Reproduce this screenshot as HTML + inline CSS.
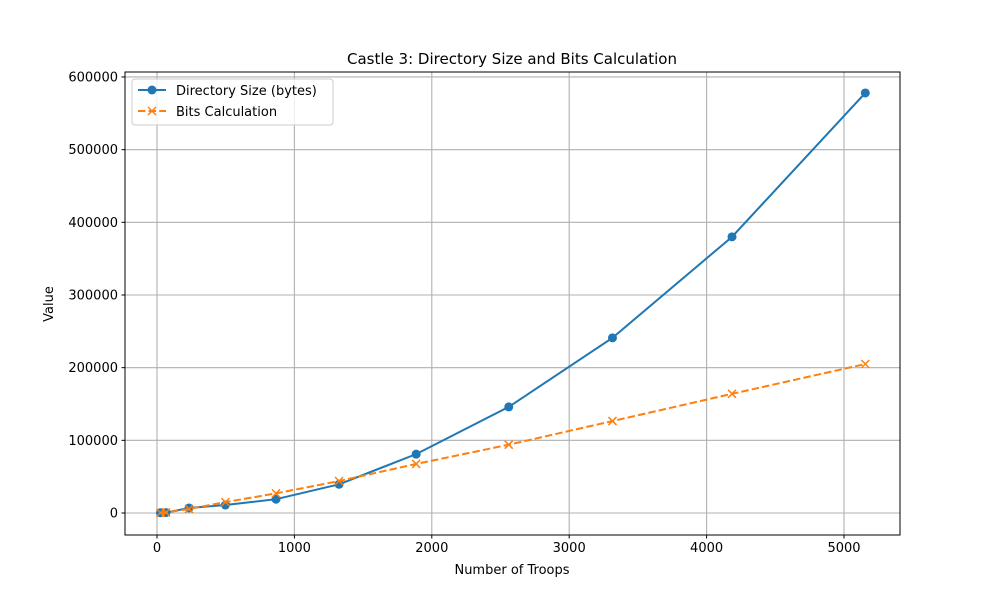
<!DOCTYPE html>
<html><head><meta charset="utf-8"><style>
body{margin:0;background:#fff;font-family:"Liberation Sans","DejaVu Sans",sans-serif}
text{font-family:"DejaVu Sans","Liberation Sans",sans-serif}
</style></head><body>
<svg id="c" width="1000" height="600" xmlns="http://www.w3.org/2000/svg"></svg>
<script>
const troops=[25,65,233,498,866,1325,1886,2560,3315,4185,5155];
const dirSize=[300,600,6900,11000,19000,39500,81000,146000,241000,380000,578000];
const bits=[300,800,5500,15000,27000,44000,67500,94000,126500,164000,205000];
const xTicks=[0,1000,2000,3000,4000,5000];
const yTicks=[0,100000,200000,300000,400000,500000,600000];
const L=125,R=900,T=72,B=535;
const xs=v=>157+v*0.1374;
const ys=v=>513-v*0.0007267;
const s=document.getElementById('c');
const NS='http://www.w3.org/2000/svg';
function mk(t,a,p){const e=document.createElementNS(NS,t);for(const k in a)e.setAttribute(k,a[k]);(p||s).appendChild(e);return e;}
mk('rect',{x:0,y:0,width:1000,height:600,fill:'#fff'});
xTicks.forEach(v=>{const x=xs(v);
 const g=mk('line',{x1:x,x2:x,y1:T,y2:B,stroke:'#b0b0b0','stroke-width':1.1});
 
 mk('line',{x1:x,x2:x,y1:B,y2:B+3.5,stroke:'#000','stroke-width':1});
 const t=mk('text',{x:x,y:B+17,'text-anchor':'middle','font-size':13});t.textContent=v;
 });
yTicks.forEach(v=>{const y=ys(v);
 const g=mk('line',{x1:L,x2:R,y1:y,y2:y,stroke:'#b0b0b0','stroke-width':1.1});
 
 mk('line',{x1:L-3.5,x2:L,y1:y,y2:y,stroke:'#000','stroke-width':1});
 const t=mk('text',{x:L-7,y:y+4.5,'text-anchor':'end','font-size':13});t.textContent=v;
 });
const fr=mk('rect',{x:L,y:T,width:R-L,height:B-T,fill:'none',stroke:'#000','stroke-width':1});

const p1=mk('polyline',{points:troops.map((v,i)=>xs(v)+','+ys(dirSize[i])).join(' '),fill:'none',stroke:'#1f77b4','stroke-width':2});

troops.forEach((v,i)=>{const c=mk('circle',{cx:xs(v),cy:ys(dirSize[i]),r:4.5,fill:'#1f77b4'});
 });
const p2=mk('polyline',{points:troops.map((v,i)=>xs(v)+','+ys(bits[i])).join(' '),fill:'none',stroke:'#ff7f0e','stroke-width':2,'stroke-dasharray':'7.4,3.2'});

troops.forEach((v,i)=>{const x=xs(v),y=ys(bits[i]);
 const m=mk('path',{d:`M${x-4},${y-4}L${x+4},${y+4}M${x-4},${y+4}L${x+4},${y-4}`,stroke:'#ff7f0e','stroke-width':1.5});
 });
const ti=mk('text',{x:512,y:64,'text-anchor':'middle','font-size':15});ti.textContent='Castle 3: Directory Size and Bits Calculation';

const xl=mk('text',{x:512,y:574,'text-anchor':'middle','font-size':13});xl.textContent='Number of Troops';

const yl=mk('text',{x:53,y:304,'text-anchor':'middle','font-size':13,transform:'rotate(-90 53 304)'});yl.textContent='Value';

const lg=mk('g',{});
mk('rect',{x:132,y:79,width:201,height:46,rx:3,fill:'#fff','fill-opacity':0.8,stroke:'#ccc'},lg);
const e1=mk('g',{},lg);
mk('line',{x1:138,x2:166,y1:90,y2:90,stroke:'#1f77b4','stroke-width':2},e1);
mk('circle',{cx:152,cy:90,r:4.5,fill:'#1f77b4'},e1);
const t1=mk('text',{x:176,y:95,'font-size':13},e1);t1.textContent='Directory Size (bytes)';
const e2=mk('g',{},lg);
mk('line',{x1:138,x2:166,y1:111,y2:111,stroke:'#ff7f0e','stroke-width':2,'stroke-dasharray':'7.4,3.2'},e2);
mk('path',{d:'M148,107L156,115M148,115L156,107',stroke:'#ff7f0e','stroke-width':1.5},e2);
const t2=mk('text',{x:176,y:116,'font-size':13},e2);t2.textContent='Bits Calculation';
</script>
</body></html>
